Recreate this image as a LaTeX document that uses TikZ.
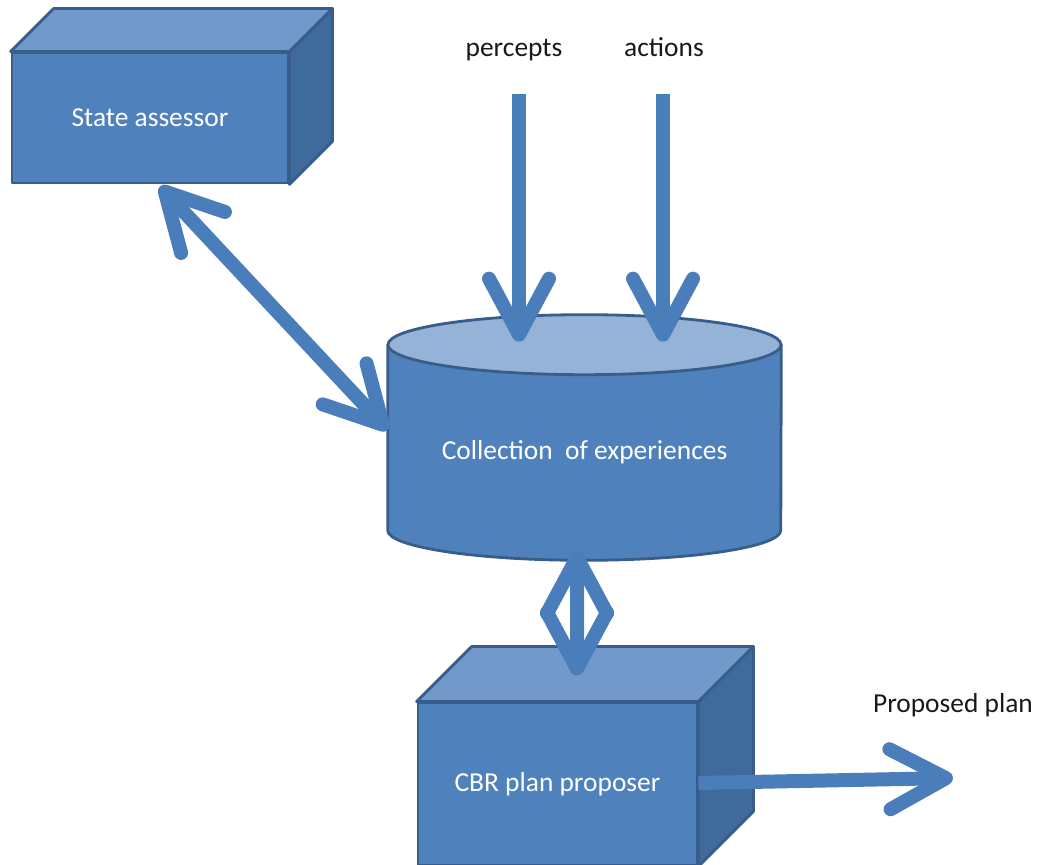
\documentclass[tikz,border=0pt]{standalone}
\usepackage{fontspec}
\setmainfont{Carlito}
\usetikzlibrary{arrows.meta}
\definecolor{boxfront}{HTML}{4F81BD}
\definecolor{boxtop}{HTML}{7399CB}
\definecolor{boxside}{HTML}{3F6A9C}
\definecolor{boxline}{HTML}{385D8A}
\definecolor{cyltop}{HTML}{95B3D7}
\definecolor{arrowblue}{HTML}{4A7EBB}
\tikzset{
  barb/.tip={Straight Barb[length=1.4cm,width=1.5cm,line width=0.35cm 0,round]},
}
\begin{document}
\begin{tikzpicture}[x=0.025cm, y=-0.025cm,
    font=\fontsize{19.5}{23}\selectfont,
    face/.style={draw=boxline, line width=2pt, line join=round},
    front/.style={face, fill=boxfront, text=white},
    conn/.style={draw=arrowblue, line width=0.35cm, barb-barb},
    inarrow/.style={draw=arrowblue, line width=0.35cm, -barb},
    lbl/.style={text=black!90, inner sep=0pt, anchor=base, text depth=0.2em}]
    \useasboundingbox (0,0) rectangle (1041,865);

    % state assessor box
    \node[front, minimum width=6.9cm, minimum height=3.25cm] (sa) at (150,118) {State assessor};
    \draw[face, fill=boxtop] (sa.north west) -- ([shift={(43,-43)}]sa.north west) -- ([shift={(43,-43)}]sa.north east) -- (sa.north east) -- cycle;
    \draw[face, fill=boxside] (sa.north east) -- ([shift={(43,-43)}]sa.north east) -- ([shift={(43,-43)}]sa.south east) -- (sa.south east) -- cycle;

    % collection of experiences
    \node[minimum width=9.825cm, minimum height=4.625cm] (coll) at (584.5,437.5) {};
    \draw[face, fill=boxfront] (coll.north west) -- (coll.south west) arc[start angle=180, end angle=360, x radius=4.9125cm, y radius=0.75cm] -- (coll.north east) -- cycle;
    \draw[face, fill=cyltop] (coll.north) ellipse[x radius=4.9125cm, y radius=0.75cm];
    \node[lbl, text=white] (colltext) at (584.5,460) {Collection~ of experiences};

    % CBR plan proposer box
    \node[front, minimum width=6.975cm, minimum height=4.05cm] (cbr) at (557.5,784) {CBR plan proposer};
    \draw[face, fill=boxtop] (cbr.north west) -- ([shift={(55,-55)}]cbr.north west) -- ([shift={(55,-55)}]cbr.north east) -- (cbr.north east) -- cycle;
    \draw[face, fill=boxside] (cbr.north east) -- ([shift={(55,-55)}]cbr.north east) -- ([shift={(55,-55)}]cbr.south east) -- (cbr.south east) -- cycle;

    % labels
    \node[lbl] (percepts) at (514,57) {percepts};
    \node[lbl] (actions) at (664,57) {actions};
    \node[lbl] (plantext) at (953,712) {Proposed plan};
    \coordinate (plan) at (953,778);

    % arrows
    \draw[inarrow, shorten <=0.85cm] ([xshift=0.125cm]percepts.south) -- ([xshift=0.125cm, yshift=0.075cm]percepts.south |- coll.north);
    \draw[inarrow, shorten <=0.85cm] ([xshift=-0.025cm]actions.south) -- ([xshift=-0.025cm, yshift=0.075cm]actions.south |- coll.north);
    \draw[conn] ([xshift=0.25cm, yshift=-0.05cm]sa.south) -- ([yshift=0.19cm]coll.west);
    \draw[conn] ([xshift=-0.1875cm, yshift=-0.5cm]coll.south) -- ([xshift=0.4875cm, yshift=0.65cm]cbr.north);
    \draw[inarrow] ([yshift=0.025cm]cbr.east) -- (plan);
\end{tikzpicture}
\end{document}
